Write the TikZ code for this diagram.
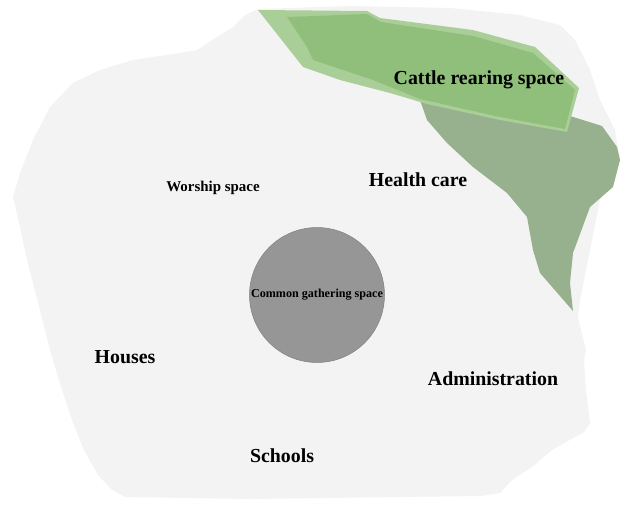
\documentclass[tikz,border=0pt]{standalone}
\usepackage{fontspec}
\setmainfont{Liberation Serif}
\usepackage{xcolor}
\usepackage{tikz}

\definecolor{landgrey}{RGB}{243,243,243}
\definecolor{lightgreen}{RGB}{170,206,152}
\definecolor{stripgreen}{RGB}{143,191,122}
\definecolor{slopegreen}{RGB}{151,176,141}
\definecolor{hubgrey}{RGB}{150,150,150}

\begin{document}
\begin{tikzpicture}[
        x=0.02cm, y=-0.02cm,
        zone/.style={draw=none},
        lbl/.style={font=\bfseries\fontsize{11.3}{13}\selectfont, inner sep=0pt},
        minilbl/.style={font=\bfseries\fontsize{8.5}{10}\selectfont, inner sep=0pt},
        hub/.style={circle, fill=hubgrey, draw=hubgrey!85!black, line width=0.3pt,
            minimum size=2.7cm, inner sep=0pt, font=\bfseries\fontsize{6.9}{8}\selectfont}
    ]
    \useasboundingbox (0,0) rectangle (625,507);

    % Settlement land
    \fill[zone, landgrey] (258,9) -- (245,15) -- (233,27) -- (217,37) -- (197,50)
        -- (167,55) -- (133,60) -- (100,70) -- (73,83) -- (50,107) -- (33,140)
        -- (20,173) -- (13,197) -- (20,227) -- (27,260) -- (40,310) -- (50,350)
        -- (62,390) -- (72,420) -- (84,450) -- (98,475) -- (112,490) -- (125,497)
        -- (250,499) -- (400,497) -- (480,496) -- (500,493) -- (512,480)
        -- (532,467) -- (552,450) -- (584,432) -- (590,423) -- (586,390)
        -- (584,360) -- (586,350) -- (578,318) -- (580,300) -- (600,200)
        -- (620,160) -- (615,130) -- (600,100) -- (590,70) -- (575,40)
        -- (560,25) -- (520,15) -- (450,8) -- (350,6) -- cycle;

    % Slope towards the grazing land
    \fill[zone, slopegreen] (420,100) -- (427,120) -- (447,143) -- (473,167)
        -- (507,193) -- (527,217) -- (533,250) -- (540,273) -- (573,311)
        -- (570,283) -- (573,253) -- (590,207) -- (613,187) -- (620,160)
        -- (617,147) -- (602,126) -- (570,116) -- cycle;

    % Cattle strip
    \fill[zone, lightgreen] (258,10) -- (367,11) -- (380,18) -- (473,30)
        -- (535,47) -- (579,88) -- (567,132) -- (500,120) -- (427,104)
        -- (390,93) -- (340,80) -- (303,67) -- cycle;
    \fill[zone, stripgreen] (287,17) -- (367,14) -- (381,22) -- (473,36)
        -- (533,53) -- (575,90) -- (565,129) -- (500,117) -- (420,99)
        -- (373,80) -- (313,60) -- (307,47) -- cycle;

    % Centre
    \node[hub] (common) at (317,295) {Common gathering space};

    % Labels
    \node[lbl] (cattle) at (479,80) {Cattle rearing space};
    \node[lbl] (health) at (418,180) {Health care};
    \node[minilbl] (worship) at (213,188) {Worship space};
    \node[lbl] (houses) at (125,357) {Houses};
    \node[lbl] (admin) at (493,379) {Administration};
    \node[lbl] (schools) at (282,456) {Schools};

\end{tikzpicture}
\end{document}
